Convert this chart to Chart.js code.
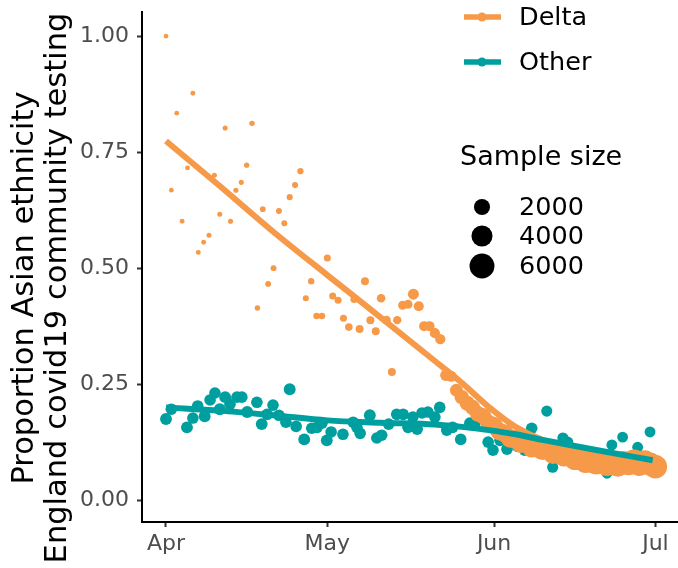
<!DOCTYPE html>
<html>
<head>
<meta charset="utf-8">
<script src="https://cdn.jsdelivr.net/npm/chart.js@4.4.1/dist/chart.umd.min.js"></script>
<style>
  html, body { margin: 0; padding: 0; background: #fff; }
  #wrap { width: 678px; height: 568px; }
</style>
</head>
<body>
<div id="wrap"><canvas id="chart" width="678" height="568"></canvas></div>
<script>
// days counted from 1 April
const xTickDays = [0, 30, 61, 91];
const xTickLabels = ['Apr', 'May', 'Jun', 'Jul'];
const yTicks = [0, 0.25, 0.5, 0.75, 1];
const sizeLegendN = [2000, 4000, 6000];

const deltaDay = [0, 1, 2, 3, 4, 5, 6, 7, 8, 9, 10, 11, 12, 13, 14, 15, 16, 17, 18, 19,
  20, 21, 22, 23, 24, 25, 26, 27, 28, 29, 30, 31, 32, 33, 34, 35, 36, 37, 38, 39,
  40, 41, 42, 43, 44, 45, 46, 47, 48, 49, 50, 51, 52, 53, 54, 55, 56, 57, 58, 59,
  60, 61, 62, 63, 64, 65, 66, 67, 68, 69, 70, 71, 72, 73, 74, 75, 76, 77, 78, 79,
  80, 81, 82, 83, 84, 85, 86, 87, 88, 89, 90, 91];
const deltaProp = [1.00, 0.668, 0.834, 0.601, 0.716, 0.877, 0.534, 0.556, 0.571, 0.700,
  0.616, 0.802, 0.601, 0.668, 0.685, 0.722, 0.812, 0.414, 0.627, 0.466,
  0.500, 0.623, 0.597, 0.653, 0.679, 0.709, 0.435, 0.472, 0.397, 0.397,
  0.522, 0.440, 0.431, 0.392, 0.373, 0.433, 0.369, 0.472, 0.388, 0.364,
  0.435, 0.388, 0.276, 0.388, 0.420, 0.422, 0.444, 0.418, 0.375, 0.375,
  0.360, 0.347, 0.269, 0.267, 0.237, 0.222, 0.209, 0.200, 0.186, 0.181,
  0.166, 0.161, 0.148, 0.144, 0.133, 0.131, 0.122, 0.124, 0.113, 0.117,
  0.108, 0.109, 0.100, 0.104, 0.095, 0.096, 0.088, 0.089, 0.082, 0.083,
  0.079, 0.081, 0.076, 0.078, 0.075, 0.082, 0.078, 0.085, 0.077, 0.083,
  0.078, 0.072];
const deltaN = [5, 8, 8, 10, 10, 10, 12, 12, 14, 14, 14, 16, 16, 18, 18, 20, 30, 30, 40, 45,
  50, 55, 55, 60, 60, 70, 60, 80, 90, 90, 125, 125, 125, 125, 180, 180, 220, 220, 220, 220,
  290, 290, 220, 260, 340, 340, 670, 500, 500, 500, 520, 540, 680, 700, 1100, 1500, 1700, 1800, 1900, 2100,
  2300, 2500, 2600, 2700, 2900, 3000, 3100, 3200, 3300, 3400, 3500, 3600, 3700, 3800, 3900, 4000, 4100, 4200, 4300, 4400,
  4500, 4500, 4600, 4600, 4700, 4700, 4800, 4800, 4900, 4900, 5000, 5200];

const otherDay = [0, 1, 3.9, 5, 5.9, 7.2, 8.2, 9.1, 10, 11, 11.9, 13.2, 14.1, 15.1, 16.9, 17.8, 18.8, 19.9,
  21, 22.3, 23, 24.2, 25.7, 27.1, 28.1, 29, 29.9, 30.7, 32.9, 34.8, 35.5, 36.1, 37.9, 39.2, 40.1,
  41.4, 42.9, 44.1, 45, 45.9, 46.7, 47.6, 48.7, 50, 50.9, 52.2, 53.3, 54.8, 56.5, 57.4, 59.9, 60.8,
  62.1, 63.4, 65.4, 66.7, 68, 69.5, 70.8, 71.9, 73.8, 74.7, 77, 78.8, 80.7, 82, 82.9, 84.9, 86.2,
  87.7, 89, 90, 90.9];
const otherProp = [0.175, 0.196, 0.157, 0.177, 0.203, 0.181, 0.216, 0.231, 0.196, 0.222, 0.207, 0.222,
  0.222, 0.190, 0.211, 0.164, 0.185, 0.205, 0.183, 0.168, 0.239, 0.159, 0.131, 0.155, 0.157, 0.166,
  0.129, 0.147, 0.142, 0.168, 0.157, 0.144, 0.183, 0.134, 0.140, 0.164, 0.185, 0.185, 0.157, 0.179,
  0.153, 0.188, 0.190, 0.179, 0.200, 0.151, 0.157, 0.131, 0.166, 0.164, 0.125, 0.108, 0.129, 0.110,
  0.116, 0.108, 0.155, 0.103, 0.192, 0.071, 0.134, 0.125, 0.097, 0.086, 0.095, 0.058, 0.119, 0.136,
  0.091, 0.114, 0.086, 0.147, 0.082];
const otherN = [850, 800, 850, 800, 800, 850, 800, 800, 850, 850, 800, 800, 800, 850, 800, 850, 800, 800,
  800, 800, 850, 800, 850, 800, 800, 800, 850, 800, 800, 800, 800, 800, 850, 800, 800, 800, 800, 800,
  800, 800, 800, 800, 800, 800, 800, 800, 800, 800, 800, 800, 800, 800, 800, 800, 800, 800, 800, 800,
  700, 700, 700, 700, 700, 700, 700, 650, 650, 650, 650, 650, 650, 650, 650];

const deltaFitDay = [0, 10, 20, 30, 40, 50, 55, 60, 65, 70, 80, 91];
const deltaFitProp = [0.774, 0.677, 0.578, 0.485, 0.393, 0.300, 0.253, 0.201, 0.158, 0.130, 0.104, 0.079];
const otherFitDay = [0, 10, 20, 30, 40, 50, 55, 60, 65, 70, 80, 90.5];
const otherFitProp = [0.200, 0.193, 0.183, 0.172, 0.167, 0.163, 0.158, 0.151, 0.142, 0.130, 0.108, 0.086];

const orange = '#F69A49';
const teal = '#009F9F';
const font = "'DejaVu Sans', sans-serif";

function sizeToRadius(n) {
    return 2.0 + 0.135 * Math.sqrt(n);
}

function pairs(xs, ys) {
    return xs.map((x, i) => ({ x: x, y: ys[i] }));
}

function noPadding(scale) {
    scale.paddingTop = 0;
    scale.paddingBottom = 0;
    scale.paddingLeft = 0;
    scale.paddingRight = 0;
}

const legendPlugin = {
    id: 'ggLegend',
    afterDraw(chart) {
        const ctx = chart.ctx;
        ctx.save();

        // y axis title, two lines
        ctx.fillStyle = '#000';
        ctx.font = '30.5px ' + font;
        ctx.textAlign = 'center';
        ctx.textBaseline = 'alphabetic';
        const lines = [['Proportion Asian ethnicity', 33], ['England covid19 community testing', 66]];
        lines.forEach(([txt, bx]) => {
            ctx.save();
            ctx.translate(bx, 288);
            ctx.rotate(-Math.PI / 2);
            ctx.fillText(txt, 0, 0);
            ctx.restore();
        });

        // colour legend
        const keys = [['Delta', orange, 17], ['Other', teal, 62]];
        keys.forEach(([label, col, y]) => {
            ctx.strokeStyle = col;
            ctx.lineWidth = 5.5;
            ctx.beginPath();
            ctx.moveTo(464, y);
            ctx.lineTo(501, y);
            ctx.stroke();
            ctx.fillStyle = col;
            ctx.beginPath();
            ctx.arc(482, y, 4.5, 0, Math.PI * 2);
            ctx.fill();
            ctx.fillStyle = '#000';
            ctx.font = '25.5px ' + font;
            ctx.textAlign = 'left';
            ctx.textBaseline = 'middle';
            ctx.fillText(label, 519, y + 1);
        });

        // size legend
        ctx.fillStyle = '#000';
        ctx.font = '27px ' + font;
        ctx.textAlign = 'left';
        ctx.textBaseline = 'middle';
        ctx.fillText('Sample size', 460, 158);
        const ys = [207, 236, 266];
        sizeLegendN.forEach((n, i) => {
            ctx.fillStyle = '#000';
            ctx.beginPath();
            ctx.arc(482, ys[i], sizeToRadius(n), 0, Math.PI * 2);
            ctx.fill();
            ctx.font = '25.5px ' + font;
            ctx.fillText(String(n), 519, ys[i] + 1);
        });
        ctx.restore();
    }
};

const chart = new Chart(document.getElementById('chart'), {
    type: 'scatter',
    data: {
        datasets: [
            {
                label: 'Other',
                data: pairs(otherDay, otherProp),
                backgroundColor: teal,
                borderWidth: 0,
                pointRadius: (c) => sizeToRadius(otherN[c.dataIndex]),
                order: 4
            },
            {
                label: 'Delta',
                data: pairs(deltaDay, deltaProp),
                backgroundColor: orange,
                borderWidth: 0,
                pointRadius: (c) => sizeToRadius(deltaN[c.dataIndex]),
                order: 3
            },
            {
                label: 'Delta fit',
                data: pairs(deltaFitDay, deltaFitProp),
                showLine: true,
                borderColor: orange,
                borderWidth: 6,
                pointRadius: 0,
                cubicInterpolationMode: 'monotone',
                order: 2
            },
            {
                label: 'Other fit',
                data: pairs(otherFitDay, otherFitProp),
                showLine: true,
                borderColor: teal,
                borderWidth: 6,
                pointRadius: 0,
                cubicInterpolationMode: 'monotone',
                order: 1
            }
        ]
    },
    options: {
        responsive: false,
        devicePixelRatio: 1,
        animation: false,
        events: [],
        layout: { autoPadding: false, padding: { top: 12, right: 0, left: 0, bottom: 0 } },
        plugins: {
            legend: { display: false },
            tooltip: { enabled: false }
        },
        scales: {
            x: {
                type: 'linear',
                min: -4.46,
                max: 95.2,
                afterBuildTicks: (scale) => { scale.ticks = xTickDays.map(v => ({ value: v })); },
                afterFit: (scale) => { scale.height = 46; noPadding(scale); },
                ticks: {
                    callback: (v) => xTickLabels[xTickDays.indexOf(v)],
                    color: '#4D4D4D',
                    font: { family: font, size: 22 },
                    padding: 4,
                    maxRotation: 0,
                    autoSkip: false
                },
                grid: { drawOnChartArea: false, drawTicks: true, tickLength: 5, tickColor: '#333', tickWidth: 2 },
                border: { display: true, color: '#000', width: 2 }
            },
            y: {
                min: -0.047,
                max: 1.052,
                afterBuildTicks: (scale) => { scale.ticks = yTicks.map(v => ({ value: v })); },
                afterFit: (scale) => { scale.width = 142; noPadding(scale); },
                ticks: {
                    callback: (v) => v.toFixed(2),
                    color: '#4D4D4D',
                    font: { family: font, size: 22 },
                    padding: 8
                },
                grid: { drawOnChartArea: false, drawTicks: true, tickLength: 5, tickColor: '#333', tickWidth: 2 },
                border: { display: true, color: '#000', width: 2 }
            }
        }
    },
    plugins: [legendPlugin]
});
</script>
</body>
</html>
